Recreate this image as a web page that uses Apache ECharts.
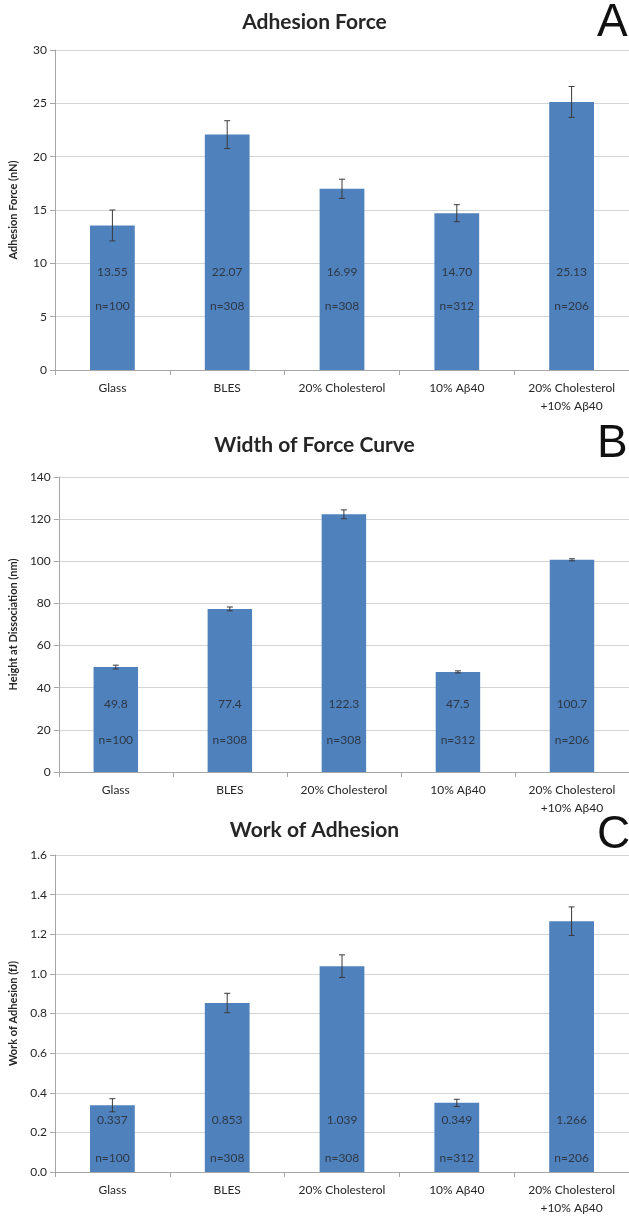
<!DOCTYPE html>
<html>
<head>
<meta charset="utf-8">
<script src="https://cdn.jsdelivr.net/npm/echarts@6/dist/echarts.min.js"></script>
<style>
  html, body { margin: 0; padding: 0; background: #fff; }
  #chart { width: 629px; height: 1217px; }
</style>
</head>
<body>
<div id="chart"></div>
<script>
// Sample groups shared by all three panels
const categories = ['Glass', 'BLES', '20% Cholesterol', '10% Aβ40', '20% Cholesterol\n+10% Aβ40'];
const sampleCounts = [100, 308, 308, 312, 206];

// Panel A: adhesion force (nN), mean and error
const forceMean = [13.55, 22.07, 16.99, 14.70, 25.13];
const forceErr = [1.45, 1.3, 0.9, 0.8, 1.45];

// Panel B: height at dissociation (nm), mean and error
const widthMean = [49.8, 77.4, 122.3, 47.5, 100.7];
const widthErr = [0.9, 0.9, 2.1, 0.5, 0.5];

// Panel C: work of adhesion (fJ), mean and error
const workMean = [0.337, 0.853, 1.039, 0.349, 1.266];
const workErr = [0.033, 0.049, 0.057, 0.018, 0.072];

const FONT = 'Lato, "Open Sans", sans-serif';
const BAR = '#4F81BD';
const TEXT = '#262626';

const panels = [
  { title: 'Adhesion Force', letter: 'A', yName: 'Adhesion Force (nN)',
    mean: forceMean, err: forceErr, max: 30, step: 5, digits: 2, tickDigits: 0,
    top: 50, height: 320, titleTop: 7, letterY: 0, valueAt: 9.2, countAt: 6.0 },
  { title: 'Width of Force Curve', letter: 'B', yName: 'Height at Dissociation (nm)',
    mean: widthMean, err: widthErr, max: 140, step: 20, digits: 1, tickDigits: 0,
    top: 477, height: 295, titleTop: 430, letterY: 421, valueAt: 32, countAt: 15 },
  { title: 'Work of Adhesion', letter: 'C', yName: 'Work of Adhesion (fJ)',
    mean: workMean, err: workErr, max: 1.6, step: 0.2, digits: 3, tickDigits: 1,
    top: 855, height: 338, titleTop: 815, letterY: 812, valueAt: 0.26, countAt: 0.07 }
];

function errorBar(params, api) {
  const x = api.value(0);
  const lo = api.coord([x, api.value(1)]);
  const hi = api.coord([x, api.value(2)]);
  const cap = 3;
  const style = { stroke: '#3a3a3a', lineWidth: 1 };
  return {
    type: 'group',
    children: [
      { type: 'line', shape: { x1: hi[0], y1: hi[1], x2: lo[0], y2: lo[1] }, style },
      { type: 'line', shape: { x1: hi[0] - cap, y1: hi[1], x2: hi[0] + cap, y2: hi[1] }, style },
      { type: 'line', shape: { x1: lo[0] - cap, y1: lo[1], x2: lo[0] + cap, y2: lo[1] }, style }
    ]
  };
}

const grid = [], xAxis = [], yAxis = [], series = [], title = [], graphic = [];

panels.forEach((p, i) => {
  grid.push({ left: 55, right: 0, top: p.top, height: p.height });
  title.push({
    text: p.title, left: 'center', top: p.titleTop,
    textStyle: { fontFamily: FONT, fontWeight: 'bold', fontSize: 21, color: TEXT }
  });
  graphic.push({
    type: 'text', left: 597, top: p.letterY,
    style: { text: p.letter, font: '46px "Liberation Sans", Arial, sans-serif', fill: '#111' }
  });
  xAxis.push({
    type: 'category', gridIndex: i, data: categories,
    axisLine: { lineStyle: { color: '#a6a6a6' } },
    axisTick: { show: true, length: 5, lineStyle: { color: '#a6a6a6' } },
    axisLabel: { fontFamily: FONT, fontSize: 12, color: TEXT, margin: 9, lineHeight: 18, interval: 0 }
  });
  yAxis.push({
    type: 'value', gridIndex: i, min: 0, max: p.max, interval: p.step,
    name: p.yName, nameLocation: 'middle', nameGap: 36,
    nameTextStyle: { fontFamily: FONT, fontWeight: 'bold', fontSize: 11, color: TEXT },
    axisLine: { show: true, lineStyle: { color: '#a6a6a6' } },
    axisTick: { show: true, length: 5, lineStyle: { color: '#a6a6a6' } },
    axisLabel: {
      fontFamily: FONT, fontSize: 12, color: TEXT, margin: 8,
      formatter: v => v.toFixed(p.tickDigits)
    },
    splitLine: { lineStyle: { color: '#d4d4d4' } }
  });
  series.push({
    type: 'bar', xAxisIndex: i, yAxisIndex: i, data: p.mean,
    barCategoryGap: '61%', itemStyle: { color: BAR }, silent: true
  });
  series.push({
    type: 'custom', xAxisIndex: i, yAxisIndex: i, renderItem: errorBar, z: 5,
    data: p.mean.map((m, k) => [k, m - p.err[k], m + p.err[k]])
  });
  // Mean values written inside each bar
  series.push({
    type: 'scatter', xAxisIndex: i, yAxisIndex: i, symbolSize: 0, z: 6,
    data: p.mean.map((m, k) => ({ value: [k, p.valueAt], text: m.toFixed(p.digits) })),
    label: { show: true, position: 'inside', formatter: d => d.data.text,
      fontFamily: FONT, fontSize: 12, color: TEXT }
  });
  // Sample counts below the means
  series.push({
    type: 'scatter', xAxisIndex: i, yAxisIndex: i, symbolSize: 0, z: 6,
    data: sampleCounts.map((n, k) => ({ value: [k, p.countAt], text: 'n=' + n })),
    label: { show: true, position: 'inside', formatter: d => d.data.text,
      fontFamily: FONT, fontSize: 12, color: TEXT }
  });
});

const chart = echarts.init(document.getElementById('chart'), null, { renderer: 'canvas' });
chart.setOption({ animation: false, backgroundColor: '#fff', title, grid, xAxis, yAxis, series, graphic });
</script>
</body>
</html>
